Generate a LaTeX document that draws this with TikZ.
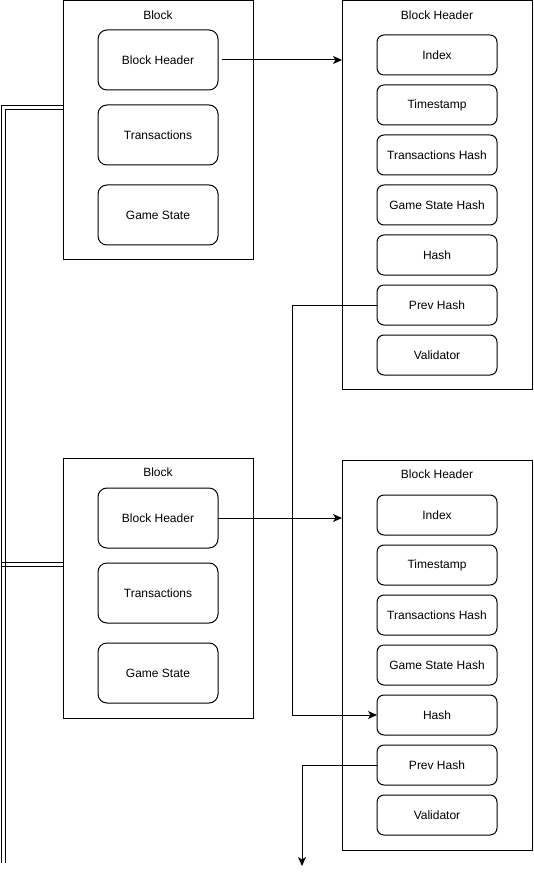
\documentclass[tikz,border=0pt]{standalone}
\usepackage{fontspec}
\setmainfont{Liberation Sans}
\usetikzlibrary{arrows.meta,calc}
\begin{document}
\begin{tikzpicture}[x=1pt,y=-1pt,
  every node/.style={inner sep=0pt,outer sep=0pt,font=\fontsize{12}{14}\selectfont},
  outerbox/.style={draw,line width=1pt,minimum width=190pt},
  item/.style={draw,line width=1pt,rounded corners=7pt,minimum width=120pt,minimum height=40pt},
  bigitem/.style={draw,line width=1pt,rounded corners=9pt,minimum width=120pt,minimum height=60pt},
  ttl/.style={},
  conn/.style={line width=1pt},
  arr/.style={line width=1pt,-{Stealth[length=9pt,width=8pt,inset=2.5pt]}}
]
\useasboundingbox (0,0) rectangle (533,874);
% Block 1
\node[outerbox,minimum height=259pt] (blk1) at (158,130.5) {};
\node[ttl] (blk1t) at (158,15) {Block};
\node[bigitem] (bh1) at (158,60) {Block Header};
\node[bigitem] (tx1) at (158,135) {Transactions};
\node[bigitem] (gs1) at (158,215) {Game State};
% Block Header 1
\node[outerbox,minimum height=388pt] (hdr1) at (437,195) {};
\node[ttl] (hdr1t) at (437,15) {Block Header};
\node[item] (ix1) at (437,55) {Index};
\node[item] (ts1) at (437,105) {Timestamp};
\node[item] (th1) at (437,155) {Transactions Hash};
\node[item] (gh1) at (437,205) {Game State Hash};
\node[item] (hs1) at (437,255) {Hash};
\node[item] (ph1) at (437,305) {Prev Hash};
\node[item] (va1) at (437,355) {Validator};
% Block 2
\node[outerbox,minimum height=260pt] (blk2) at (158,588) {};
\node[ttl] (blk2t) at (158,472) {Block};
\node[bigitem] (bh2) at (158,518) {Block Header};
\node[bigitem] (tx2) at (158,593) {Transactions};
\node[bigitem] (gs2) at (158,673) {Game State};
% Block Header 2
\node[outerbox,minimum height=390pt] (hdr2) at (437,655) {};
\node[ttl] (hdr2t) at (437,474) {Block Header};
\node[item] (ix2) at (437,515) {Index};
\node[item] (ts2) at (437,565) {Timestamp};
\node[item] (th2) at (437,615) {Transactions Hash};
\node[item] (gh2) at (437,665) {Game State Hash};
\node[item] (hs2) at (437,715) {Hash};
\node[item] (ph2) at (437,765) {Prev Hash};
\node[item] (va2) at (437,815) {Validator};
% connectors
\draw[arr] ([xshift=4pt]bh1.east) -- (hdr1.west |- bh1.east);
\draw[arr] (bh2.east) -- (hdr2.west |- bh2.east);
\draw[arr] (ph1.west) -- ++(-85,0) |- (hs2.west);
\coordinate (tail) at (302,866);
\draw[arr] (ph2.west) -| (tail);
% double link lines
\coordinate (busL) at (1,863);
\coordinate (busR) at (5,863);
\coordinate (l1a) at ($(blk1.north west)+(0,105)$);
\coordinate (l1b) at ($(blk1.north west)+(0,109)$);
\coordinate (l2a) at ($(blk2.north west)+(0,104.5)$);
\coordinate (l2b) at ($(blk2.north west)+(0,108.5)$);
\draw[conn] (l1a) -| (busL);
\draw[conn] (l1b) -| (busR);
\draw[conn] (l2a) -- (l2a -| busL);
\draw[conn] (l2b) -- (l2b -| busL);
\end{tikzpicture}
\end{document}
